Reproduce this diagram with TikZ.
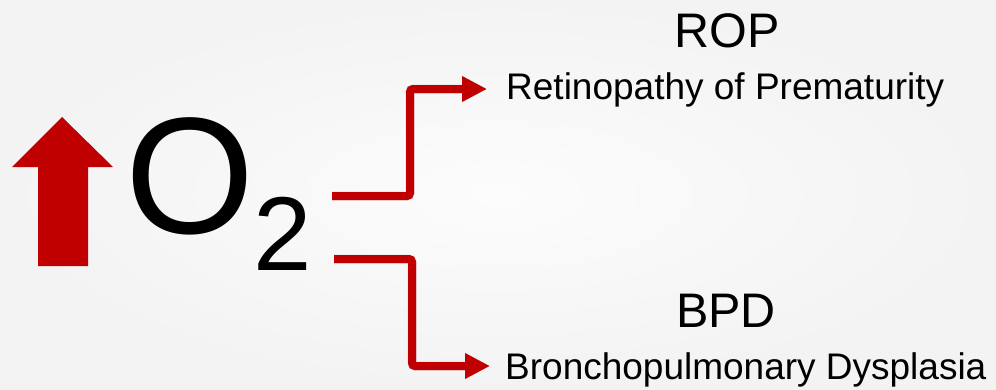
\documentclass[tikz,border=0pt]{standalone}
\usepackage{fontspec}
\setmainfont{Liberation Sans}
\usetikzlibrary{arrows.meta,calc}
\definecolor{dred}{HTML}{C00000}
\definecolor{bgin}{HTML}{FCFCFC}
\definecolor{bgout}{HTML}{F3F3F3}
\tikzset{
  conn/.style={draw=dred, line width=8pt, rounded corners=3pt,
    -{Triangle[length=25pt,width=24pt]}},
  connshadow/.style={draw=black, opacity=0.12, line width=9pt, rounded corners=3pt,
    -{Triangle[length=25pt,width=25pt]}},
  big/.style={inner sep=0pt, font=\fontsize{48.5}{48.5}\selectfont},
  small/.style={inner sep=0pt, anchor=base west, font=\fontsize{37}{37}\selectfont},
}
\begin{document}
\begin{tikzpicture}[x=1pt,y=-1pt]
  \useasboundingbox (0,0) rectangle (996,389);
  \shade[inner color=bgin, outer color=bgout] (0,0) rectangle (996,389);
  % big up arrow
  \fill[dred] (62,117) -- (113,167) -- (88,167) -- (88,266) -- (38,266) -- (38,167) -- (12,167) -- cycle;
  % O2
  \node[inner sep=0pt, anchor=base west, font=\fontsize{166}{166}\selectfont] (O) at (125,233) {O};
  \node[inner sep=0pt, anchor=base west, font=\fontsize{105}{105}\selectfont] (two) at (253,270) {2};
  % labels
  \node[big, anchor=base] (rop) at (727,47) {ROP};
  \node[small] (ret) at (506,99) {Retinopathy of Prematurity};
  \node[big, anchor=base] (bpd) at (726,327) {BPD};
  \node[small] (bron) at (505,379) {Bronchopulmonary Dysplasia};
  % connector points
  \coordinate (s1) at (332,196);
  \coordinate (m1) at (410,140);
  \coordinate (e1) at (487,89);
  \coordinate (s2) at (334,259);
  \coordinate (m2) at (412,310);
  \coordinate (e2) at (490,366);
  % shadows
  \begin{scope}[shift={(2,3)}]
    \draw[connshadow] (s1) -- (s1 -| m1) -- (m1 |- e1) -- (e1);
    \draw[connshadow] (s2) -- (s2 -| m2) -- (m2 |- e2) -- (e2);
  \end{scope}
  % connectors
  \draw[conn] (s1) -- (s1 -| m1) -- (m1 |- e1) -- (e1);
  \draw[conn] (s2) -- (s2 -| m2) -- (m2 |- e2) -- (e2);
\end{tikzpicture}
\end{document}
